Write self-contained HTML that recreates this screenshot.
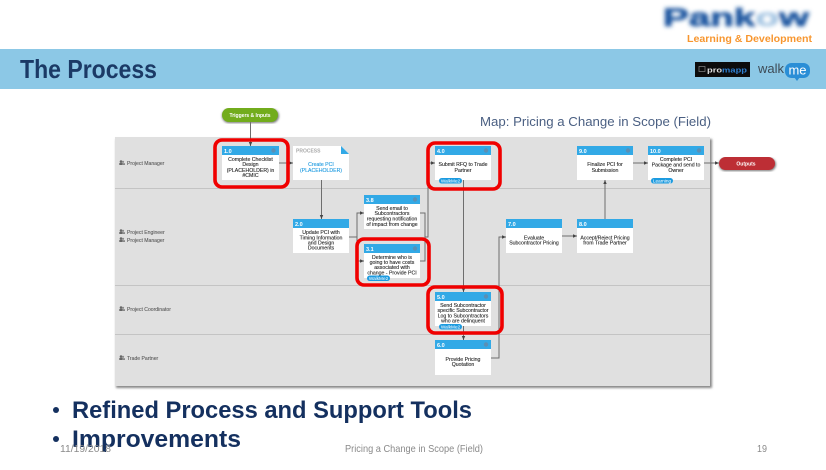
<!DOCTYPE html>
<html><head><meta charset="utf-8"><style>
html,body{margin:0;padding:0;background:#fff;width:826px;height:470px;overflow:hidden}
svg{display:block;font-family:"Liberation Sans",sans-serif}
.n{font-size:5.2px;fill:#2a2a2a;stroke:#2a2a2a;stroke-width:.12;text-anchor:middle}
.h{font-size:5.5px;fill:#fff;font-weight:bold}
.r{font-size:5.1px;fill:#555;stroke:#555;stroke-width:.08}
.b{font-size:4.7px;fill:#fff;text-anchor:middle}
.c{fill:none;stroke:#6e6e6e;stroke-width:1}
.red{fill:none;stroke:#f00000;stroke-width:3.6}
</style></head><body>
<svg width="826" height="470" viewBox="0 0 826 470" xmlns="http://www.w3.org/2000/svg">
<defs>
<filter id="bl" x="-10%" y="-30%" width="120%" height="160%"><feGaussianBlur stdDeviation="2"/></filter>
<filter id="sh" x="-5%" y="-5%" width="110%" height="110%"><feGaussianBlur stdDeviation="1"/></filter>
<filter id="soft" x="-1%" y="-1%" width="102%" height="102%"><feGaussianBlur stdDeviation="0.22"/></filter>
<marker id="a" markerUnits="userSpaceOnUse" markerWidth="5" markerHeight="5" refX="4" refY="2.500" orient="auto"><path d="M0,0.800L4,2.500L0,4.200z" fill="#444"/></marker>
<g id="u"><circle cx="2" cy="1.600" r="1.300" fill="#666"/><rect x=".3" y="3" width="3.600" height="2" fill="#666"/><circle cx="4" cy="1.800" r="1.100" fill="#888"/><rect x="3" y="3.200" width="3" height="1.800" fill="#888"/></g>
</defs>

<rect width="826" height="470" fill="#fff"/>
<text x="663" y="26" font-size="25" font-weight="bold" fill="#1f57a0" stroke="#1f57a0" stroke-width=".8" filter="url(#bl)" textLength="146" lengthAdjust="spacingAndGlyphs">Pank<tspan fill="#a9c8e4" stroke="#a9c8e4">o</tspan>w</text>
<text x="687" y="42" font-size="10.500" font-weight="bold" fill="#f7962f" textLength="125" lengthAdjust="spacingAndGlyphs">Learning &amp; Development</text>

<rect x="0" y="49" width="826" height="40" fill="#8cc8e6"/>
<text x="20" y="78" font-size="26" font-weight="bold" fill="#1b3a66" textLength="137" lengthAdjust="spacingAndGlyphs">The Process</text>
<rect x="695" y="62" width="55" height="15" fill="#0c0c0c"/>
<rect x="699" y="66.500" width="6" height="5" fill="none" stroke="#888" stroke-width=".7"/>
<text x="707" y="72.500" font-size="7.500" font-weight="bold" fill="#ddd" textLength="40" lengthAdjust="spacingAndGlyphs">pro<tspan fill="#2f7fd0">mapp</tspan></text>
<text x="758" y="73" font-size="13" fill="#3d4a55" textLength="26" lengthAdjust="spacingAndGlyphs">walk</text>
<rect x="785" y="63" width="25" height="15" rx="6.500" fill="#2a8ed6"/><path d="M794,77l3,4l3,-4z" fill="#2a8ed6"/>
<text x="797.500" y="74.500" font-size="13" fill="#fff" text-anchor="middle">me</text>

<text x="480" y="126" font-size="13" fill="#4a5f82" textLength="231" lengthAdjust="spacingAndGlyphs">Map: Pricing a Change in Scope (Field)</text>

<rect x="116" y="139" width="596" height="249" fill="#888" filter="url(#sh)"/>
<rect x="115" y="137" width="595" height="249" fill="#e0e0e0"/>
<path d="M115,188.500H710M115,285.500H710M115,334.500H710" stroke="#c4c4c4" stroke-width="1"/>

<g filter="url(#soft)">
<use href="#u" x="119" y="160"/><text class="r" x="127" y="165">Project Manager</text>
<use href="#u" x="119" y="229"/><text class="r" x="127" y="234">Project Engineer</text>
<use href="#u" x="119" y="237"/><text class="r" x="127" y="242">Project Manager</text>
<use href="#u" x="119" y="306"/><text class="r" x="127" y="311">Project Coordinator</text>
<use href="#u" x="119" y="355"/><text class="r" x="127" y="360">Trade Partner</text>

<!-- connectors -->
<path class="c" d="M250.500,122V146" marker-end="url(#a)"/>
<path class="c" d="M279,163H293" marker-end="url(#a)"/>
<path class="c" d="M321.500,180V219" marker-end="url(#a)"/>
<path class="c" d="M349,237H357V213H364" marker-end="url(#a)"/>
<path class="c" d="M357,237V261H364" marker-end="url(#a)"/>
<path class="c" d="M420,213H425V261H420"/>
<path class="c" d="M425,237H428V163H435" marker-end="url(#a)"/>
<path class="c" d="M463.500,180V292" marker-end="url(#a)"/>
<path class="c" d="M463.500,326V340" marker-end="url(#a)"/>
<path class="c" d="M491,358H499V237H506" marker-end="url(#a)"/>
<path class="c" d="M562,236H577" marker-end="url(#a)"/>
<path class="c" d="M605,219V180" marker-end="url(#a)"/>
<path class="c" d="M633,163H648" marker-end="url(#a)"/>
<path class="c" d="M704,163H719" marker-end="url(#a)"/>

<!-- terminals -->
<rect x="222" y="109" width="57" height="14" rx="7" fill="#777" filter="url(#sh)"/>
<rect x="222" y="108" width="56" height="14" rx="7" fill="#72ac1f"/>
<text x="250" y="117" font-size="5" font-weight="bold" fill="#fff" text-anchor="middle">Triggers &amp; Inputs</text>
<rect x="719" y="158" width="57" height="13" rx="6.500" fill="#777" filter="url(#sh)"/>
<rect x="719" y="157" width="56" height="13" rx="6.500" fill="#bd2f36"/>
<text x="746" y="165.500" font-size="5" font-weight="bold" fill="#fff" text-anchor="middle">Outputs</text>

<!-- boxes -->
<rect x="222" y="146" width="57" height="34" fill="#fff"/><rect x="222" y="146" width="57" height="9" fill="#32a9e6"/><text class="h" x="224" y="153">1.0</text><circle cx="273.500" cy="150.500" r="2.200" fill="#5a8fb5"/>
<text class="n" x="250.500" y="161">Complete Checklist</text><text class="n" x="250.500" y="166">Design</text><text class="n" x="250.500" y="172">(PLACEHOLDER) in</text><text class="n" x="250.500" y="177">#CMIC</text>

<path d="M293,146H341L349,154V180H293z" fill="#fff"/><path d="M341,146L349,154H341z" fill="#32a9e6"/>
<text x="296" y="152.500" font-size="5" font-weight="bold" fill="#aaa">PROCESS</text>
<text class="n" x="321" y="166" style="fill:#1f9be0;stroke:#1f9be0">Create PCI</text><text class="n" x="321" y="172" style="fill:#1f9be0;stroke:#1f9be0">(PLACEHOLDER)</text>

<rect x="364" y="195" width="56" height="34" fill="#fff"/><rect x="364" y="195" width="56" height="9" fill="#32a9e6"/><text class="h" x="366" y="202">3.8</text><circle cx="415" cy="199.500" r="2.200" fill="#5a8fb5"/>
<text class="n" x="392" y="210">Send email to</text><text class="n" x="392" y="215">Subcontractors</text><text class="n" x="392" y="220.500">requesting notification</text><text class="n" x="392" y="226">of impact from change</text>

<rect x="364" y="244" width="56" height="34" fill="#fff"/><rect x="364" y="244" width="56" height="9" fill="#32a9e6"/><text class="h" x="366" y="251">3.1</text><circle cx="415" cy="248.500" r="2.200" fill="#5a8fb5"/>
<text class="n" x="392" y="259">Determine who is</text><text class="n" x="392" y="264">going to have costs</text><text class="n" x="392" y="269">associated with</text><text class="n" x="392" y="274.500">change - Provide PCI</text>
<rect x="367" y="275.500" width="23" height="5.500" rx="2.700" fill="#1f9be0"/><text class="b" x="378.500" y="280">WalkMe2</text>

<rect x="293" y="219" width="56" height="34" fill="#fff"/><rect x="293" y="219" width="56" height="9" fill="#32a9e6"/><text class="h" x="295" y="226">2.0</text>
<text class="n" x="321" y="234">Update PCI with</text><text class="n" x="321" y="239.500">Timing Information</text><text class="n" x="321" y="244.500">and Design</text><text class="n" x="321" y="249.500">Documents</text>

<rect x="435" y="146" width="56" height="34" fill="#fff"/><rect x="435" y="146" width="56" height="9" fill="#32a9e6"/><text class="h" x="437" y="153">4.0</text><circle cx="486" cy="150.500" r="2.200" fill="#5a8fb5"/>
<text class="n" x="463" y="166">Submit RFQ to Trade</text><text class="n" x="463" y="172">Partner</text>
<rect x="439" y="178" width="23" height="5.500" rx="2.700" fill="#1f9be0"/><text class="b" x="450.500" y="182.500">WalkMe2</text>

<rect x="577" y="146" width="56" height="34" fill="#fff"/><rect x="577" y="146" width="56" height="9" fill="#32a9e6"/><text class="h" x="579" y="153">9.0</text><circle cx="628" cy="150.500" r="2.200" fill="#5a8fb5"/>
<text class="n" x="605" y="166">Finalize PCI for</text><text class="n" x="605" y="172">Submission</text>

<rect x="648" y="146" width="56" height="34" fill="#fff"/><rect x="648" y="146" width="56" height="9" fill="#32a9e6"/><text class="h" x="650" y="153">10.0</text><circle cx="699" cy="150.500" r="2.200" fill="#5a8fb5"/>
<text class="n" x="676" y="161">Complete PCI</text><text class="n" x="676" y="166.500">Package and send to</text><text class="n" x="676" y="172">Owner</text>
<rect x="651" y="178" width="22" height="5.500" rx="2.700" fill="#1f9be0"/><text class="b" x="662" y="182.500">Learning</text>

<rect x="506" y="219" width="56" height="34" fill="#fff"/><rect x="506" y="219" width="56" height="9" fill="#32a9e6"/><text class="h" x="508" y="226">7.0</text>
<text class="n" x="534" y="239.500">Evaluate</text><text class="n" x="534" y="244.500">Subcontractor Pricing</text>

<rect x="577" y="219" width="56" height="34" fill="#fff"/><rect x="577" y="219" width="56" height="9" fill="#32a9e6"/><text class="h" x="579" y="226">8.0</text>
<text class="n" x="605" y="239.500">Accept/Reject Pricing</text><text class="n" x="605" y="244.500">from Trade Partner</text>

<rect x="435" y="292" width="56" height="34" fill="#fff"/><rect x="435" y="292" width="56" height="9" fill="#32a9e6"/><text class="h" x="437" y="299">5.0</text><circle cx="486" cy="296.500" r="2.200" fill="#5a8fb5"/>
<text class="n" x="463" y="307">Send Subcontractor</text><text class="n" x="463" y="312">specific Subcontractor</text><text class="n" x="463" y="317.500">Log to Subcontractors</text><text class="n" x="463" y="322.500">who are delinquent</text>
<rect x="439" y="324" width="23" height="5.500" rx="2.700" fill="#1f9be0"/><text class="b" x="450.500" y="328.500">WalkMe2</text>

<rect x="435" y="340" width="56" height="35" fill="#fff"/><rect x="435" y="340" width="56" height="9" fill="#32a9e6"/><text class="h" x="437" y="347">6.0</text><circle cx="486" cy="344.500" r="2.200" fill="#5a8fb5"/>
<text class="n" x="463" y="361">Provide Pricing</text><text class="n" x="463" y="366">Quotation</text>
</g>

<!-- red highlights -->
<rect class="red" x="215" y="140" width="73" height="47" rx="7"/>
<rect class="red" x="357" y="239" width="72" height="46" rx="7"/>
<rect class="red" x="428" y="143" width="72" height="46" rx="7"/>
<rect class="red" x="428" y="287" width="74" height="46" rx="7"/>

<!-- bottom bullets -->
<circle cx="56" cy="410" r="3" fill="#14305f"/>
<text x="72" y="418" font-size="24" font-weight="bold" fill="#14305f" textLength="400" lengthAdjust="spacingAndGlyphs">Refined Process and Support Tools</text>
<circle cx="56" cy="439" r="3" fill="#14305f"/>
<text x="72" y="447" font-size="24" font-weight="bold" fill="#14305f" textLength="169" lengthAdjust="spacingAndGlyphs">Improvements</text>
<text x="60" y="452" font-size="10.500" fill="#8a8a8a" textLength="51" lengthAdjust="spacingAndGlyphs">11/19/2018</text>
<text x="345" y="452" font-size="10.500" fill="#8a8a8a" textLength="138" lengthAdjust="spacingAndGlyphs">Pricing a Change in Scope (Field)</text>
<text x="757" y="452" font-size="10.500" fill="#8a8a8a" textLength="10" lengthAdjust="spacingAndGlyphs">19</text>
</svg>
</body></html>
